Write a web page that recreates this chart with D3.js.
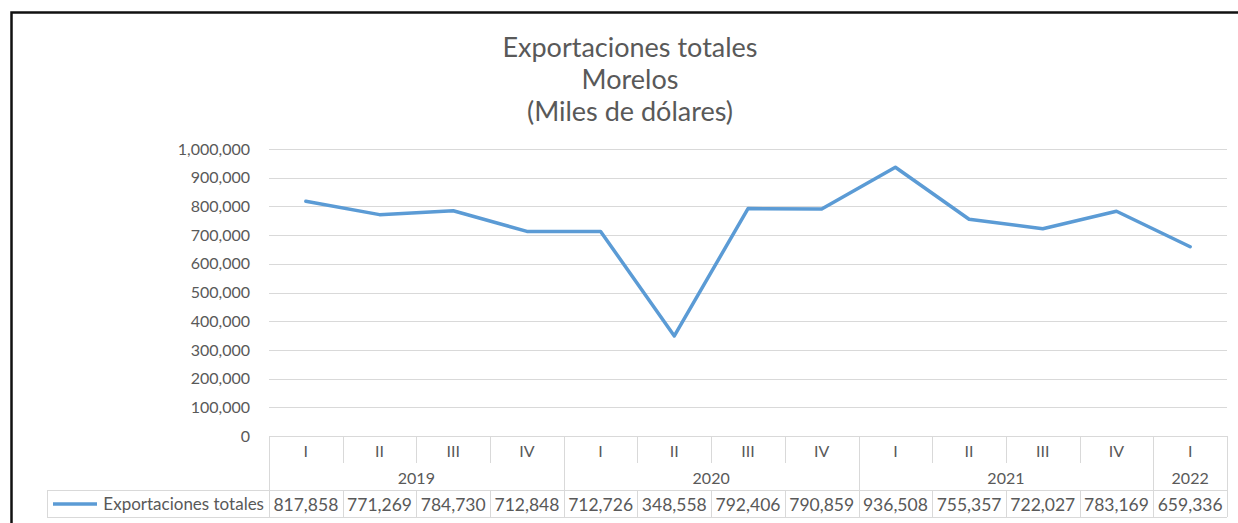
<!DOCTYPE html>
<html lang="es">
<head>
<meta charset="UTF-8">
<title>Exportaciones totales Morelos</title>
<script src="https://d3js.org/d3.v7.min.js"></script>
<style>
  body { margin: 0; background: #fff; }
  svg text { font-family: Lato, "Open Sans", sans-serif; fill: #595959; }
</style>
</head>
<body>
<svg id="chart"></svg>
<script>
var quarters = ["I", "II", "III", "IV", "I", "II", "III", "IV", "I", "II", "III", "IV", "I"];
var years = ["2019", "2019", "2019", "2019", "2020", "2020", "2020", "2020", "2021", "2021", "2021", "2021", "2022"];
var values = [817858, 771269, 784730, 712848, 712726, 348558, 792406, 790859, 936508, 755357, 722027, 783169, 659336];
var seriesName = "Exportaciones totales";
var titleLines = ["Exportaciones totales", "Morelos", "(Miles de dólares)"];
var yTicks = [0, 100000, 200000, 300000, 400000, 500000, 600000, 700000, 800000, 900000, 1000000];

var W = 1238, H = 523;
var plot = {left: 269, right: 1227, top: 149, bottom: 436};
var gridColor = "#d9d9d9";
var lineColor = "#5b9bd5";

var svg = d3.select("#chart").attr("width", W).attr("height", H);

// outer frame
svg.append("rect")
    .attr("x", 11.5).attr("y", 12.5)
    .attr("width", 1400).attr("height", 700)
    .attr("fill", "none").attr("stroke", "#111").attr("stroke-width", 2.5);

// title
svg.append("g").selectAll("text").data(titleLines).join("text")
    .attr("x", 630)
    .attr("y", function (d, i) { return 46 + i * 32; })
    .attr("text-anchor", "middle")
    .attr("dominant-baseline", "central")
    .attr("font-size", 27)
    .text(function (d) { return d; });

var idx = d3.range(values.length);
var x = d3.scaleBand().domain(idx).range([plot.left, plot.right]);
var y = d3.scaleLinear().domain([0, 1000000]).range([plot.bottom, plot.top]);

// gridlines
svg.append("g").selectAll("line").data(yTicks.filter(function (d) { return d > 0; })).join("line")
    .attr("x1", plot.left).attr("x2", plot.right)
    .attr("y1", function (d) { return Math.round(y(d)) + 0.5; })
    .attr("y2", function (d) { return Math.round(y(d)) + 0.5; })
    .attr("stroke", gridColor).attr("stroke-width", 1);

// y axis labels
var yAxis = d3.axisLeft(y).tickValues(yTicks).tickSize(0).tickPadding(0)
    .tickFormat(d3.format(","));
var ya = svg.append("g").attr("transform", "translate(" + 250 + ",0)").call(yAxis);
ya.select(".domain").remove();
ya.selectAll("text").attr("font-size", 16).attr("fill", "#595959")
    .attr("font-family", "Lato, 'Open Sans', sans-serif");

// series line
var line = d3.line()
    .x(function (d, i) { return x(i) + x.bandwidth() / 2; })
    .y(function (d) { return y(d); });

svg.append("path").datum(values)
    .attr("d", line)
    .attr("fill", "none")
    .attr("stroke", lineColor)
    .attr("stroke-width", 3.5)
    .attr("stroke-linejoin", "round")
    .attr("stroke-linecap", "round");

// ---------------- data table under the axis ----------------
var row1 = plot.bottom, row2 = 463, row3 = 490, row4 = 517;
var tbl = svg.append("g").attr("stroke", gridColor).attr("stroke-width", 1).attr("shape-rendering", "crispEdges");

// horizontal lines
tbl.append("line").attr("x1", plot.left).attr("x2", plot.right).attr("y1", row1 + 0.5).attr("y2", row1 + 0.5);
tbl.append("line").attr("x1", 47).attr("x2", plot.right).attr("y1", row3 + 0.5).attr("y2", row3 + 0.5);
tbl.append("line").attr("x1", 47).attr("x2", plot.right).attr("y1", row4 + 0.5).attr("y2", row4 + 0.5);
// left borders
tbl.append("line").attr("x1", 47.5).attr("x2", 47.5).attr("y1", row3).attr("y2", row4);
tbl.append("line").attr("x1", plot.left + 0.5).attr("x2", plot.left + 0.5).attr("y1", row1).attr("y2", row4);

// category dividers: full height at year change, short otherwise
idx.forEach(function (i) {
    var xr = Math.round(x(i) + x.bandwidth()) + 0.5;
    var yearEnd = (i === values.length - 1) || years[i + 1] !== years[i];
    tbl.append("line")
        .attr("x1", xr).attr("x2", xr)
        .attr("y1", row1)
        .attr("y2", yearEnd ? row4 : row2);
    if (!yearEnd) {
        tbl.append("line").attr("x1", xr).attr("x2", xr).attr("y1", row3).attr("y2", row4);
    }
});

// quarter labels
svg.append("g").selectAll("text").data(quarters).join("text")
    .attr("x", function (d, i) { return x(i) + x.bandwidth() / 2; })
    .attr("y", 450)
    .attr("text-anchor", "middle").attr("dominant-baseline", "central")
    .attr("font-size", 16)
    .text(function (d) { return d; });

// year labels, centred on their group of quarters
var yearGroups = d3.groups(idx, function (i) { return years[i]; });
svg.append("g").selectAll("text").data(yearGroups).join("text")
    .attr("x", function (g) {
        var a = x(g[1][0]), b = x(g[1][g[1].length - 1]) + x.bandwidth();
        return (a + b) / 2;
    })
    .attr("y", 477)
    .attr("text-anchor", "middle").attr("dominant-baseline", "central")
    .attr("font-size", 16)
    .text(function (g) { return g[0]; });

// values row
svg.append("g").selectAll("text").data(values).join("text")
    .attr("x", function (d, i) { return x(i) + x.bandwidth() / 2; })
    .attr("y", 504)
    .attr("text-anchor", "middle").attr("dominant-baseline", "central")
    .attr("font-size", 17.5)
    .text(function (d) { return d3.format(",")(d); });

// legend key in the table
svg.append("line")
    .attr("x1", 53).attr("x2", 97).attr("y1", 504).attr("y2", 504)
    .attr("stroke", lineColor).attr("stroke-width", 3.5);
svg.append("text")
    .attr("x", 264).attr("y", 503)
    .attr("text-anchor", "end").attr("dominant-baseline", "central")
    .attr("font-size", 17)
    .text(seriesName);
</script>
</body>
</html>
